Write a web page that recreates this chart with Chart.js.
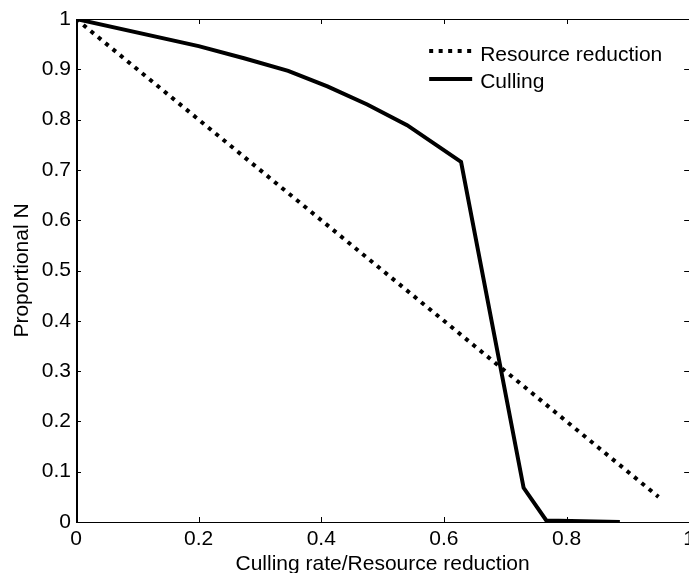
<!DOCTYPE html>
<html>
<head>
<meta charset="utf-8">
<script src="https://cdn.jsdelivr.net/npm/chart.js@4"></script>
<style>
  html, body { margin: 0; padding: 0; background: #fff; overflow: hidden; }
  #wrap { position: absolute; left: 0; top: 0; width: 700px; height: 590px; }
</style>
</head>
<body>
<div id="wrap"><canvas id="chart"></canvas></div>
<script>
// Proportional N vs culling rate / resource reduction
var resourceX = [0, 0.05, 0.1, 0.15, 0.2, 0.25, 0.3, 0.35, 0.4, 0.45, 0.5, 0.55, 0.6, 0.65, 0.7, 0.75, 0.8, 0.85, 0.9, 0.95];
var resourceY = [1, 0.95, 0.9, 0.85, 0.8, 0.75, 0.7, 0.65, 0.6, 0.55, 0.5, 0.45, 0.4, 0.35, 0.3, 0.25, 0.2, 0.15, 0.1, 0.05];

var cullingX = [0, 0.2, 0.274, 0.346, 0.41, 0.475, 0.54, 0.628, 0.73, 0.767, 0.887];
var cullingY = [1, 0.946, 0.922, 0.897, 0.866, 0.83, 0.789, 0.716, 0.068, 0.003, 0.0];

var seriesNames = ['Resource reduction', 'Culling'];
var xTicks = [0, 0.2, 0.4, 0.6, 0.8, 1];
var yTicks = [0, 0.1, 0.2, 0.3, 0.4, 0.5, 0.6, 0.7, 0.8, 0.9, 1];

var FONT = 'Liberation Sans, Arial, sans-serif';
var FSIZE = 21;

function toPoints(xs, ys) {
    var pts = [];
    for (var i = 0; i < xs.length; i++) {
        pts.push({ x: xs[i], y: ys[i] });
    }
    return pts;
}

// matlab style box with inward ticks
var boxAxes = {
    id: 'boxAxes',
    afterDatasetsDraw: function(chart) {
        var c = chart.ctx, a = chart.chartArea;
        var xs = chart.scales.x, ys = chart.scales.y;
        var len = 5;
        c.save();
        c.strokeStyle = '#000';
        c.lineWidth = 1;
        c.beginPath();
        c.rect(Math.round(a.left) + 0.5, Math.round(a.top) + 0.5, Math.round(a.right - a.left), Math.round(a.bottom - a.top));
        xTicks.forEach(function(v) {
            var px = Math.round(xs.getPixelForValue(v)) + 0.5;
            c.moveTo(px, a.bottom); c.lineTo(px, a.bottom - len);
            c.moveTo(px, a.top); c.lineTo(px, a.top + len);
        });
        yTicks.forEach(function(v) {
            var py = Math.round(ys.getPixelForValue(v)) + 0.5;
            c.moveTo(a.left, py); c.lineTo(a.left + len, py);
            c.moveTo(a.right, py); c.lineTo(a.right - len, py);
        });
        c.stroke();
        // left spine looks a bit heavier in the original
        c.beginPath();
        c.lineWidth = 2;
        c.moveTo(Math.round(a.left) + 1, a.top);
        c.lineTo(Math.round(a.left) + 1, a.bottom + 1);
        c.stroke();
        c.restore();
    }
};

// legend inside the axes, top right, no frame
var innerLegend = {
    id: 'innerLegend',
    afterDraw: function(chart) {
        var c = chart.ctx, a = chart.chartArea;
        var lineStart = a.right - 260, lineEnd = a.right - 217, textX = a.right - 209;
        var rowsLine = [a.top + 32, a.top + 60];
        var rowsText = [a.top + 42, a.top + 69];
        c.save();
        chart.data.datasets.forEach(function(ds, i) {
            c.beginPath();
            c.strokeStyle = ds.borderColor;
            c.lineWidth = ds.borderWidth;
            c.lineCap = 'butt';
            c.setLineDash(ds.borderDash || []);
            c.moveTo(lineStart, rowsLine[i]);
            c.lineTo(lineEnd, rowsLine[i]);
            c.stroke();
            c.setLineDash([]);
            c.fillStyle = '#000';
            c.font = FSIZE + 'px ' + FONT;
            c.textBaseline = 'alphabetic';
            c.fillText(ds.label, textX, rowsText[i]);
        });
        c.restore();
    }
};

function plainLabel(value) {
    return String(value);
}

var ctx = document.getElementById('chart').getContext('2d');
var graph = new Chart(ctx, {
    type: 'line',
    data: {
        datasets: [
            {
                label: seriesNames[0],
                data: toPoints(resourceX, resourceY),
                borderColor: '#000',
                borderWidth: 4,
                borderDash: [4, 5.5],
                borderCapStyle: 'butt',
                pointRadius: 0,
                tension: 0
            },
            {
                label: seriesNames[1],
                data: toPoints(cullingX, cullingY),
                borderColor: '#000',
                borderWidth: 4,
                borderJoinStyle: 'miter',
                pointRadius: 0,
                tension: 0
            }
        ]
    },
    options: {
        responsive: true,
        maintainAspectRatio: false,
        animation: false,
        layout: { padding: { top: 19, right: 10.5, bottom: 0, left: 0 } },
        scales: {
            x: {
                type: 'linear',
                min: 0,
                max: 1,
                afterBuildTicks: function(scale) {
                    scale.ticks = xTicks.map(function(v) { return { value: v }; });
                },
                afterFit: function(scale) { scale.height = 68; },
                grid: { display: false, drawTicks: false },
                border: { display: false },
                ticks: { color: '#000', padding: 5, maxRotation: 0, callback: plainLabel, font: { family: FONT, size: FSIZE } },
                title: {
                    display: true,
                    text: 'Culling rate/Resource reduction',
                    color: '#000',
                    font: { family: FONT, size: FSIZE },
                    padding: { top: 0, bottom: 13 }
                }
            },
            y: {
                min: 0,
                max: 1,
                afterBuildTicks: function(scale) {
                    scale.ticks = yTicks.map(function(v) { return { value: v }; });
                },
                afterFit: function(scale) { scale.width = 76; },
                grid: { display: false, drawTicks: false },
                border: { display: false },
                ticks: { color: '#000', padding: 5, callback: plainLabel, font: { family: FONT, size: FSIZE } },
                title: {
                    display: true,
                    text: 'Proportional N',
                    color: '#000',
                    font: { family: FONT, size: FSIZE },
                    padding: { top: 10, bottom: 0 }
                }
            }
        },
        plugins: {
            legend: { display: false },
            tooltip: { enabled: false }
        }
    },
    plugins: [boxAxes, innerLegend]
});
</script>
</body>
</html>
